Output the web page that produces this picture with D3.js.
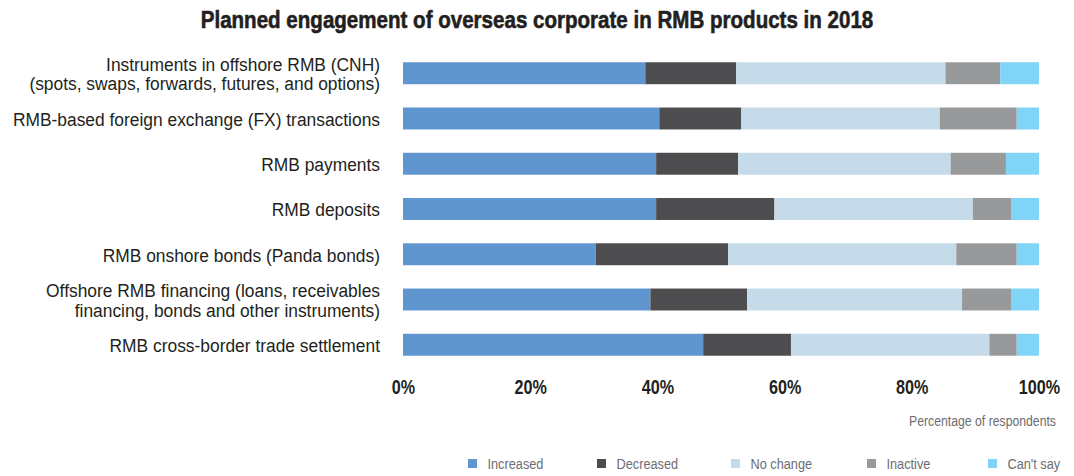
<!DOCTYPE html>
<html><head><meta charset="utf-8">
<script src="https://cdn.jsdelivr.net/npm/d3@7"></script>
<style>
body{margin:0;background:#fff;}
text{font-family:"Liberation Sans",Arial,sans-serif;}
</style></head>
<body><svg id="c" width="1074" height="476"></svg>
<script>
const categories = [
  ["Instruments in offshore RMB (CNH)","(spots, swaps, forwards, futures, and options)"],
  ["RMB-based foreign exchange (FX) transactions"],
  ["RMB payments"],
  ["RMB deposits"],
  ["RMB onshore bonds (Panda bonds)"],
  ["Offshore RMB financing (loans, receivables","financing, bonds and other instruments)"],
  ["RMB cross-border trade settlement"]
];
const seriesNames = ["Increased","Decreased","No change","Inactive","Can't say"];
const increased = [38.1, 40.3, 39.8, 39.8, 30.3, 38.9, 47.2];
const decreased = [14.3, 12.9, 12.9, 18.6, 20.8, 15.2, 13.8];
const noChange  = [32.9, 31.2, 33.4, 31.2, 35.9, 33.8, 31.2];
const inactive  = [ 8.6, 12.1,  8.7,  6.0,  9.5,  7.7,  4.3];
const cantSay   = [ 6.1,  3.5,  5.2,  4.4,  3.5,  4.4,  3.5];
const tickValues = [0,20,40,60,80,100];
const colors = ["#6096cf","#4d4d4f","#c5dbe9","#98999b","#80d4f7"];

const svg = d3.select("#c");
const x = d3.scaleLinear().domain([0,100]).range([403,1039]);
const y = d3.scaleBand().domain(d3.range(categories.length)).range([50.5,367.5]).paddingInner(0.515).paddingOuter(0.26);

svg.append("text").attr("transform","translate(537,28) scale(0.857,1)").attr("text-anchor","middle")
  .style("font-size","24px").style("font-weight","bold").style("fill","#231f20")
  .style("stroke","#231f20").style("stroke-width","0.6px")
  .text("Planned engagement of overseas corporate in RMB products in 2018");

const rows = categories.map((c,i)=>({i, Increased:increased[i], Decreased:decreased[i], "No change":noChange[i], Inactive:inactive[i], "Can't say":cantSay[i]}));
const stack = d3.stack().keys(seriesNames)(rows);
svg.append("g").selectAll("g").data(stack).join("g").attr("fill",(d,k)=>colors[k])
  .selectAll("rect").data(d=>d).join("rect")
  .attr("x",d=>x(d[0])).attr("width",d=>x(d[1])-x(d[0]))
  .attr("y",d=>y(d.data.i)).attr("height",y.bandwidth());

// category labels
const lab = svg.append("g");
categories.forEach((lines,i)=>{
  const cy = y(i)+y.bandwidth()/2;
  const lh = 19.5;
  lines.forEach((t,j)=>{
    const yy = cy + (j-(lines.length-1)/2)*lh + 7.3;
    lab.append("text").attr("transform",`translate(380,${yy}) scale(0.915,1)`)
      .attr("text-anchor","end").style("font-size","19px").style("fill","#231f20").text(t);
  });
});

// x axis
const ax = svg.append("g").attr("transform","translate(0,394)")
  .call(d3.axisBottom(x).tickValues(tickValues).tickFormat(d=>d+"%").tickSize(0));
ax.select(".domain").remove();
ax.selectAll("text").attr("dy",null).attr("y",0).attr("transform","scale(0.83,1)")
  .style("font-size","19.5px").style("font-weight","bold").style("fill","#231f20")
  .style("font-family",'"Liberation Sans",Arial,sans-serif');

svg.append("text").attr("transform","translate(1056,425.5) scale(0.845,1)").attr("text-anchor","end")
  .style("font-size","14.5px").style("fill","#6d6e71").text("Percentage of respondents");

// legend
const legX = [468,597,731,867,988];
const lg = svg.append("g");
seriesNames.forEach((n,k)=>{
  lg.append("rect").attr("x",legX[k]).attr("y",459).attr("width",9).attr("height",9).attr("fill",colors[k]);
  lg.append("text").attr("transform",`translate(${legX[k]+19.5},469) scale(0.85,1)`)
    .style("font-size","15px").style("fill","#6d6e71").text(n);
});
</script></body></html>
